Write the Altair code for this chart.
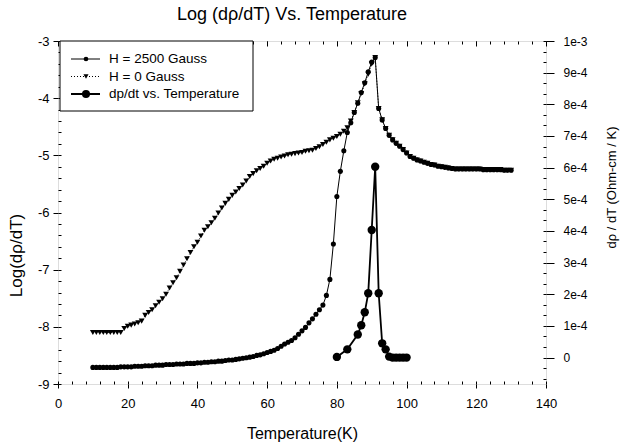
import altair as alt
import pandas as pd

FONT = "Liberation Sans"

# ---------------- data ----------------
temps = list(range(10, 131))

log_h2500 = [
    -8.71, -8.71, -8.71, -8.71, -8.71, -8.71, -8.71, -8.71, -8.70, -8.70,   # 10-19
    -8.70, -8.70, -8.69, -8.69, -8.69, -8.68, -8.68, -8.68, -8.67, -8.67,   # 20-29
    -8.67, -8.66, -8.66, -8.66, -8.65, -8.65, -8.65, -8.64, -8.64, -8.64,   # 30-39
    -8.63, -8.63, -8.62, -8.62, -8.61, -8.61, -8.60, -8.60, -8.59, -8.58,   # 40-49
    -8.58, -8.57, -8.56, -8.55, -8.54, -8.53, -8.52, -8.50, -8.49, -8.47,   # 50-59
    -8.45, -8.43, -8.41, -8.38, -8.34, -8.30, -8.27, -8.24, -8.19, -8.13,   # 60-69
    -8.07, -8.01, -7.93, -7.86, -7.78, -7.70, -7.62, -7.45, -7.17, -6.55,   # 70-79
    -5.72, -5.28, -4.92, -4.60, -4.43, -4.25, -4.09, -3.90, -3.73, -3.54,   # 80-89
    -3.37, -3.29, -4.18, -4.38, -4.53, -4.65, -4.73, -4.79, -4.84, -4.90,   # 90-99
    -4.96, -5.02, -5.05, -5.08, -5.10, -5.12, -5.14, -5.16, -5.17, -5.19,   # 100-109
    -5.20, -5.21, -5.22, -5.23, -5.24, -5.24, -5.24, -5.24, -5.24, -5.24,   # 110-119
    -5.24, -5.24, -5.25, -5.25, -5.25, -5.25, -5.25, -5.25, -5.26, -5.26,   # 120-129
    -5.26,                                                                  # 130
]

log_h0 = [
    -8.10, -8.10, -8.10, -8.10, -8.10, -8.10, -8.10, -8.10, -8.10, -8.03,   # 10-19
    -7.99, -7.97, -7.95, -7.93, -7.90, -7.80, -7.75, -7.70, -7.63, -7.57,   # 20-29
    -7.51, -7.43, -7.32, -7.23, -7.14, -7.03, -6.92, -6.81, -6.70, -6.60,   # 30-39
    -6.52, -6.41, -6.31, -6.25, -6.18, -6.10, -6.01, -5.92, -5.84, -5.77,   # 40-49
    -5.70, -5.64, -5.58, -5.52, -5.45, -5.37, -5.32, -5.27, -5.23, -5.19,   # 50-59
    -5.14, -5.10, -5.07, -5.05, -5.03, -5.01, -4.99, -4.98, -4.97, -4.96,   # 60-69
    -4.95, -4.93, -4.92, -4.91, -4.88, -4.85, -4.81, -4.77, -4.73, -4.70,   # 70-79
    -4.67, -4.63, -4.58, -4.52, -4.40, -4.25, -4.08, -3.92, -3.75, -3.58,   # 80-89
    -3.40, -3.29, -4.18, -4.38, -4.53, -4.65, -4.73, -4.79, -4.84, -4.90,   # 90-99
    -4.96, -5.02, -5.05, -5.08, -5.10, -5.12, -5.14, -5.16, -5.17, -5.19,   # 100-109
    -5.20, -5.21, -5.22, -5.23, -5.24, -5.24, -5.24, -5.24, -5.24, -5.24,   # 110-119
    -5.24, -5.24, -5.25, -5.25, -5.25, -5.25, -5.25, -5.25, -5.26, -5.26,   # 120-129
    -5.26,                                                                  # 130
]

t_deriv = [80, 83, 86, 87, 88, 89, 90, 91, 92, 93, 94, 95, 96, 97, 98, 99, 100]
deriv = [0.02e-4, 0.26e-4, 0.73e-4, 1.02e-4, 1.43e-4, 2.03e-4, 4.03e-4, 6.03e-4,
         2.03e-4, 0.45e-4, 0.26e-4, 0.03e-4, 0.0, 0.0, 0.0, 0.0, 0.0]

x_major = [0, 20, 40, 60, 80, 100, 120, 140]
x_minor = list(range(0, 141, 4))
y_major = [-9, -8, -7, -6, -5, -4, -3]
y_minor = [round(-9 + 0.2 * i, 1) for i in range(31)]
r_major = [0.0, 1e-4, 2e-4, 3e-4, 4e-4, 5e-4, 6e-4, 7e-4, 8e-4, 9e-4, 1e-3]
r_minor = [i * 1e-4 / 3 for i in range(-2, 31)]

legend_labels = ["H = 2500 Gauss", "H = 0 Gauss", "dp/dt vs. Temperature"]

df_h = pd.DataFrame({"T": temps, "L2500": log_h2500, "L0": log_h0})
df_d = pd.DataFrame({"T": t_deriv, "R": deriv})
one = pd.DataFrame({"k": [0]})

xs = alt.Scale(domain=[0, 140], nice=False, zero=False)
ys = alt.Scale(domain=[-9, -3], nice=False, zero=False)
rs = alt.Scale(domain=[-0.835e-4, 1e-3], nice=False, zero=False)

common = dict(grid=False, labelFont=FONT, titleFont=FONT, labelColor="black",
              tickColor="black", titleColor="black", titleFontWeight="normal",
              labelFlush=False, labelOverlap=False, tickWidth=1)

x_main_axis = alt.Axis(orient="bottom", values=x_major, tickSize=4, labelPadding=9,
                       labelFontSize=13, domain=False, title="Temperature(K)",
                       titleFontSize=16, titleY=49, titleBaseline="middle", **common)
y_main_axis = alt.Axis(orient="left", values=y_major, tickSize=5, labelPadding=4,
                       labelFontSize=13, domain=False, labelExpr="'' + datum.value",
                       title="Log(dρ/dT)", titleFontSize=17, titleAngle=270,
                       titleX=-42, titleY=214, titleAlign="center",
                       titleBaseline="middle", **common)
r_main_axis = alt.Axis(orient="right", values=r_major, tickSize=8, labelPadding=9,
                       labelFontSize=12, domain=False,
                       labelExpr="datum.value == 0 ? '0' : (round(datum.value*1e4) == 10 ? '1e-3' : round(datum.value*1e4) + 'e-4')",
                       title="dρ / dT (Ohm-cm / K)", titleFontSize=13, titleAngle=270,
                       titleX=65, titleY=146, titleAlign="center",
                       titleBaseline="middle", **common)

x_minor_axis = alt.Axis(orient="bottom", values=x_minor, tickSize=3, offset=-3,
                        labels=False, domain=False, title=None, **common)
y_minor_axis = alt.Axis(orient="left", values=y_minor, tickSize=3, offset=-3,
                        labels=False, domain=False, title=None, **common)
top_major_axis = alt.Axis(orient="top", values=x_major, tickSize=5, offset=-5,
                          labels=False, domain=False, title=None, **common)
top_minor_axis = alt.Axis(orient="top", values=x_minor, tickSize=3, offset=-3,
                          labels=False, domain=False, title=None, **common)
r_minor_axis = alt.Axis(orient="right", values=r_minor, tickSize=3, offset=-3,
                        labels=False, domain=False, title=None, **common)

base_h = alt.Chart(df_h)
base_d = alt.Chart(df_d)

h2500_line = base_h.mark_line(color="black", strokeWidth=1).encode(
    x=alt.X("T:Q", scale=xs, axis=x_main_axis),
    y=alt.Y("L2500:Q", scale=ys, axis=y_main_axis))
h2500_pts = base_h.mark_point(filled=True, shape="circle", size=26, color="black", opacity=1).encode(
    x=alt.X("T:Q", scale=xs, axis=None),
    y=alt.Y("L2500:Q", scale=ys, axis=None))
h0_line = base_h.mark_line(color="black", strokeWidth=1, strokeDash=[1, 2]).encode(
    x=alt.X("T:Q", scale=xs, axis=None),
    y=alt.Y("L0:Q", scale=ys, axis=None))
h0_pts = base_h.mark_point(filled=True, shape="triangle-down", size=34, color="black", opacity=1).encode(
    x=alt.X("T:Q", scale=xs, axis=None),
    y=alt.Y("L0:Q", scale=ys, axis=None))
d_line = base_d.mark_line(color="black", strokeWidth=1.8).encode(
    x=alt.X("T:Q", scale=xs, axis=None),
    y=alt.Y("R:Q", scale=rs, axis=r_main_axis))
d_pts = base_d.mark_point(filled=True, shape="circle", size=70, color="black", opacity=1).encode(
    x=alt.X("T:Q", scale=xs, axis=None),
    y=alt.Y("R:Q", scale=rs, axis=None))

ticks_a = base_h.mark_point(opacity=0).encode(
    x=alt.X("T:Q", scale=xs, axis=x_minor_axis),
    y=alt.Y("L2500:Q", scale=ys, axis=y_minor_axis))
ticks_b = base_d.mark_point(opacity=0).encode(
    x=alt.X("T:Q", scale=xs, axis=top_major_axis),
    y=alt.Y("R:Q", scale=rs, axis=r_minor_axis))
ticks_c = base_d.mark_point(opacity=0).encode(
    x=alt.X("T:Q", scale=xs, axis=top_minor_axis),
    y=alt.Y("R:Q", scale=rs, axis=None))

# ---------------- legend box ----------------
leg_box = alt.Chart(one).mark_rect(fill="white", stroke="black", strokeWidth=1).encode(
    x=alt.value(2), x2=alt.value(195), y=alt.value(0), y2=alt.value(70))

rows_y = [18, 35.5, 53]
leg_layers = [leg_box]
styles = [
    dict(dash=None, width=1, shape="circle", size=22),
    dict(dash=[1, 2], width=1, shape="triangle-down", size=26),
    dict(dash=None, width=2, shape="circle", size=65),
]
for label, yy, st in zip(legend_labels, rows_y, styles):
    rule_kw = dict(color="black", strokeWidth=st["width"])
    if st["dash"]:
        rule_kw["strokeDash"] = st["dash"]
    leg_layers.append(alt.Chart(one).mark_rule(**rule_kw).encode(
        x=alt.value(13), x2=alt.value(42), y=alt.value(yy)))
    leg_layers.append(alt.Chart(one).mark_point(filled=True, shape=st["shape"], size=st["size"],
                                                color="black", opacity=1).encode(
        x=alt.value(28), y=alt.value(yy)))
    leg_layers.append(alt.Chart(one).mark_text(align="left", baseline="middle", font=FONT,
                                               fontSize=13.5, color="black").encode(
        x=alt.value(51), y=alt.value(yy), text=alt.value(label)))

chart = alt.layer(
    h0_line, h0_pts, h2500_line, h2500_pts, d_line, d_pts,
    ticks_a, ticks_b, ticks_c, *leg_layers
).resolve_scale(
    x="independent", y="independent"
).properties(
    width=488, height=343,
    padding={"left": 58, "top": 41, "right": 74, "bottom": 58},
    autosize=alt.AutoSizeParams(type="none"),
    title=alt.TitleParams("Log (dρ/dT) Vs. Temperature", font=FONT, fontSize=18,
                          fontWeight="normal", color="black", anchor="middle",
                          offset=11, dx=-10),
).configure_view(
    stroke="black", strokeWidth=1
).configure(background="white")

chart.save("out.html", embed_options={"renderer": "svg", "actions": False})
